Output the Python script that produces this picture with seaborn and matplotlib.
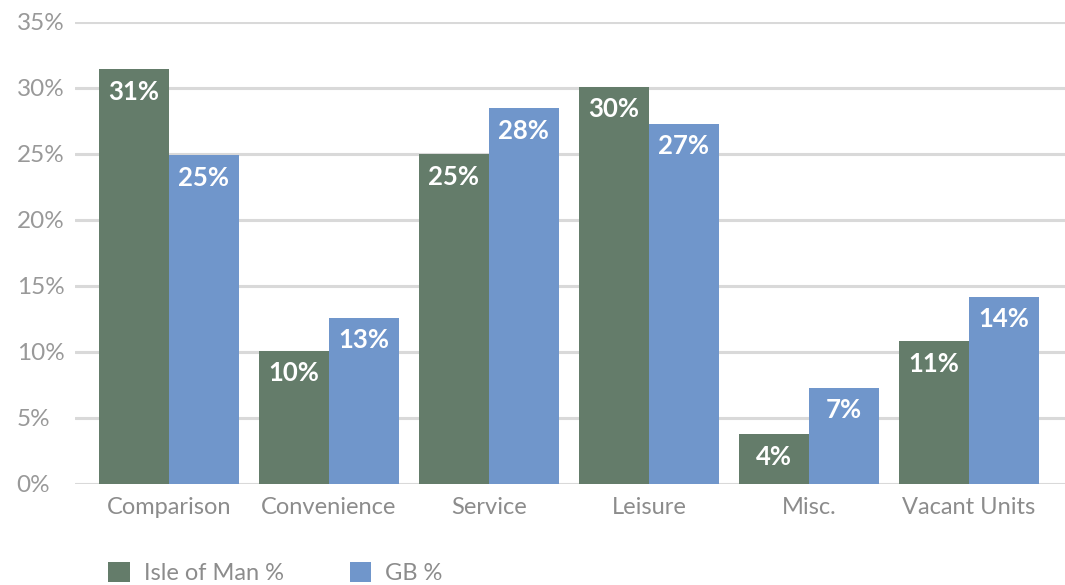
import matplotlib
matplotlib.use("Agg")
import matplotlib.pyplot as plt
import seaborn as sns
import pandas as pd
from matplotlib.patches import Patch

categories = ["Comparison", "Convenience", "Service", "Leisure", "Misc.", "Vacant Units"]
iom_values = [31.45, 10.1, 25.0, 30.1, 3.8, 10.8]
gb_values = [24.9, 12.6, 28.45, 27.3, 7.3, 14.2]
series_names = ["Isle of Man %", "GB %"]
y_ticks = [0, 5, 10, 15, 20, 25, 30, 35]

colors = ["#647C6A", "#7096CB"]

sns.set_theme(style="white")
plt.rcParams["font.family"] = ["Lato", "DejaVu Sans"]

df = pd.DataFrame({
    "category": categories * 2,
    "value": iom_values + gb_values,
    "series": [series_names[0]] * len(categories) + [series_names[1]] * len(categories),
})

fig = plt.figure(figsize=(10.65, 5.85), dpi=100)
ax = fig.add_axes([75 / 1065, 101 / 585, 1 - 75 / 1065, (484 - 22) / 585])

sns.barplot(data=df, x="category", y="value", hue="series", palette=colors,
            width=0.875, gap=0, saturation=1, ax=ax, legend=False, linewidth=0,
            edgecolor="none")

ax.set_ylim(0, 35)
ax.set_xlim(-0.585, 5.6)
ax.set_yticks(y_ticks)
ax.set_yticklabels([f"{t}%" for t in y_ticks])
ax.grid(axis="y", color="#d9d9d9", linewidth=2.2)
ax.set_axisbelow(True)
for s in ax.spines.values():
    s.set_visible(False)
ax.set_xlabel("")
ax.set_ylabel("")
ax.tick_params(axis="y", length=0, pad=42, labelsize=17.5, labelcolor="#999999")
ax.tick_params(axis="x", length=0, pad=9, labelsize=17, labelcolor="#8c8c8c")
for lbl in ax.get_yticklabels():
    lbl.set_horizontalalignment("left")

for cont in ax.containers:
    ax.bar_label(cont, labels=[f"{v:.0f}%" for v in cont.datavalues],
                 label_type="edge", padding=-25, color="white",
                 fontsize=18.5, fontweight="bold")

handles = [Patch(facecolor=c, edgecolor="none") for c in colors]
fig.legend(handles, series_names, loc="center left", bbox_to_anchor=(87 / 1065, 12 / 585),
           ncol=2, frameon=False, fontsize=17, handlelength=0.9, handleheight=0.9,
           columnspacing=2.8, handletextpad=0.6, labelcolor="#8c8c8c")

fig.savefig("out.png", dpi=100)
